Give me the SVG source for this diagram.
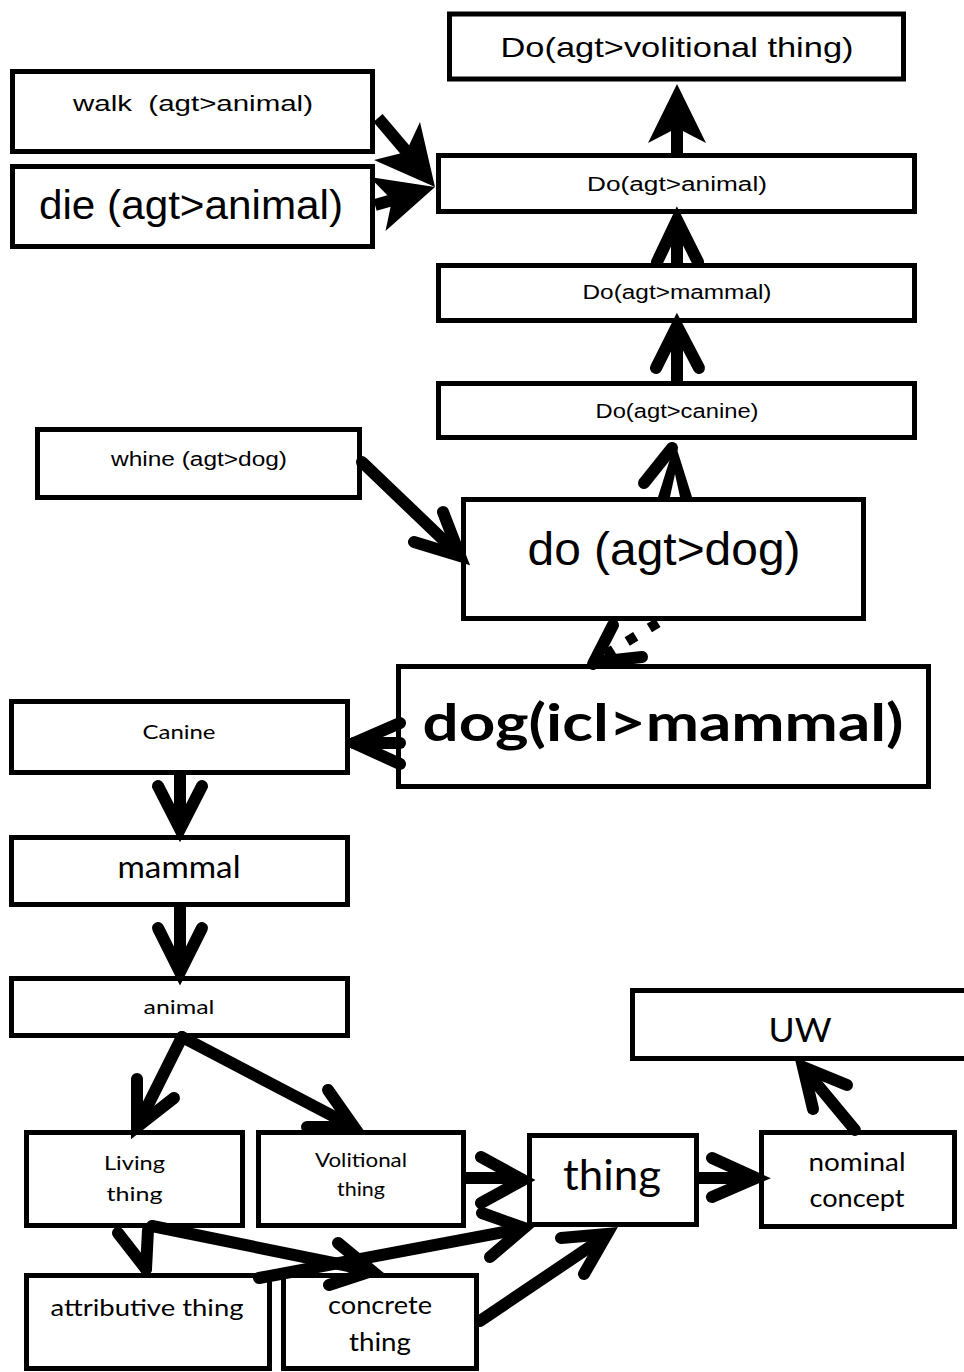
<svg xmlns="http://www.w3.org/2000/svg" width="964" height="1372" viewBox="0 0 964 1372">
  <defs>
    <style>
      .box { fill: #fff; stroke: #000; stroke-width: 5; }
      .arial { font-family: "Liberation Sans", Arial, sans-serif; fill: #000; text-anchor: middle; }
      .cal { font-family: Lato, "Open Sans", sans-serif; fill: #000; text-anchor: middle; }
      .ln { fill: none; stroke: #000; stroke-width: 12; stroke-linecap: round; stroke-linejoin: miter; }
      .shaft { fill: none; stroke: #000; stroke-width: 12; stroke-linecap: butt; }
      .head { fill: #000; stroke: none; }
      .dots { fill: none; stroke: #000; stroke-width: 10; stroke-dasharray: 10 16; }
    </style>
  </defs>
  <rect width="964" height="1372" fill="#fff"/>

  <!-- nodes -->
  <g id="nodes">
    <g id="do-volitional">
      <rect class="box" x="449.5" y="14" width="454" height="65"/>
      <text class="arial" x="677" y="57" font-size="28" textLength="353" lengthAdjust="spacingAndGlyphs">Do(agt&gt;volitional thing)</text>
    </g>
    <g id="walk">
      <rect class="box" x="12.5" y="71.5" width="360" height="80"/>
      <text class="arial" x="193" y="111" font-size="22" xml:space="preserve" textLength="240" lengthAdjust="spacingAndGlyphs">walk  (agt&gt;animal)</text>
    </g>
    <g id="die">
      <rect class="box" x="12.5" y="166.5" width="360" height="80"/>
      <text class="arial" x="191" y="219" font-size="40" textLength="304" lengthAdjust="spacingAndGlyphs">die (agt&gt;animal)</text>
    </g>
    <g id="do-animal">
      <rect class="box" x="438.5" y="155.5" width="476" height="56"/>
      <text class="arial" x="677" y="191" font-size="20" textLength="180" lengthAdjust="spacingAndGlyphs">Do(agt&gt;animal)</text>
    </g>
    <g id="do-mammal">
      <rect class="box" x="438.5" y="265.5" width="476" height="55"/>
      <text class="arial" x="677" y="299" font-size="20" textLength="189" lengthAdjust="spacingAndGlyphs">Do(agt&gt;mammal)</text>
    </g>
    <g id="do-canine">
      <rect class="box" x="438.5" y="383.5" width="476" height="54"/>
      <text class="arial" x="677" y="418" font-size="20" textLength="163" lengthAdjust="spacingAndGlyphs">Do(agt&gt;canine)</text>
    </g>
    <g id="whine">
      <rect class="box" x="37.5" y="429.5" width="322" height="68"/>
      <text class="arial" x="199" y="466" font-size="20" textLength="176" lengthAdjust="spacingAndGlyphs">whine (agt&gt;dog)</text>
    </g>
    <g id="do-dog">
      <rect class="box" x="463.5" y="499.5" width="400" height="119"/>
      <text class="arial" x="664" y="565" font-size="46" textLength="273" lengthAdjust="spacingAndGlyphs">do (agt&gt;dog)</text>
    </g>
    <g id="dog">
      <rect class="box" x="398.5" y="666.5" width="530" height="120"/>
      <text class="cal" x="663" y="741" font-size="52" font-weight="bold" textLength="481" lengthAdjust="spacingAndGlyphs">dog(icl&gt;mammal)</text>
    </g>
    <g id="canine">
      <rect class="box" x="11.5" y="701.5" width="336" height="71"/>
      <text class="cal" x="179" y="739" font-size="20" textLength="73" lengthAdjust="spacingAndGlyphs">Canine</text>
    </g>
    <g id="mammal">
      <rect class="box" x="11.5" y="837.5" width="336" height="67"/>
      <text class="cal" x="179" y="878" font-size="30" textLength="123" lengthAdjust="spacingAndGlyphs">mammal</text>
    </g>
    <g id="animal">
      <rect class="box" x="11.5" y="978.5" width="336" height="57"/>
      <text class="cal" x="179" y="1014" font-size="20" textLength="71" lengthAdjust="spacingAndGlyphs">animal</text>
    </g>
    <g id="uw">
      <rect class="box" x="632.5" y="990.5" width="350" height="68"/>
      <text class="cal" x="800" y="1042" font-size="32" textLength="63" lengthAdjust="spacingAndGlyphs">UW</text>
    </g>
    <g id="living-thing">
      <rect class="box" x="26.5" y="1132.5" width="216" height="93"/>
      <text class="cal" x="134.5" y="1170" font-size="20" textLength="61" lengthAdjust="spacingAndGlyphs">Living</text>
      <text class="cal" x="134.5" y="1201" font-size="20" textLength="56" lengthAdjust="spacingAndGlyphs">thing</text>
    </g>
    <g id="volitional-thing">
      <rect class="box" x="258.5" y="1132.5" width="205" height="93"/>
      <text class="cal" x="361" y="1167" font-size="19" textLength="92" lengthAdjust="spacingAndGlyphs">Volitional</text>
      <text class="cal" x="361" y="1196" font-size="19" textLength="48" lengthAdjust="spacingAndGlyphs">thing</text>
    </g>
    <g id="thing">
      <rect class="box" x="529.5" y="1135.5" width="167" height="89"/>
      <text class="cal" x="612" y="1190" font-size="42" textLength="98" lengthAdjust="spacingAndGlyphs">thing</text>
    </g>
    <g id="nominal-concept">
      <rect class="box" x="761.5" y="1132.5" width="193" height="94"/>
      <text class="cal" x="857" y="1171" font-size="25" textLength="97" lengthAdjust="spacingAndGlyphs">nominal</text>
      <text class="cal" x="857" y="1207" font-size="25" textLength="95" lengthAdjust="spacingAndGlyphs">concept</text>
    </g>
    <g id="attributive-thing">
      <rect class="box" x="26.5" y="1275.5" width="243" height="93"/>
      <text class="cal" x="147" y="1316" font-size="24" textLength="193" lengthAdjust="spacingAndGlyphs">attributive thing</text>
    </g>
    <g id="concrete-thing">
      <rect class="box" x="283.5" y="1275.5" width="193" height="93"/>
      <text class="cal" x="380" y="1314" font-size="25" textLength="104" lengthAdjust="spacingAndGlyphs">concrete</text>
      <text class="cal" x="380" y="1351" font-size="25" textLength="62" lengthAdjust="spacingAndGlyphs">thing</text>
    </g>
  </g>

  <!-- connectors -->
  <g id="connectors">
    <!-- Do(agt>animal) to Do(agt>volitional thing) -->
    <line class="shaft" x1="677" y1="153" x2="677" y2="125"/>
    <polygon class="head" points="677,84 706,143 677,128 648,143"/>

    <!-- walk and die to Do(agt>animal) -->
    <line class="shaft" x1="378" y1="118" x2="412" y2="158" stroke-width="13"/>
    <polygon class="head" points="435,187 420,122 406,152 374,160"/>
    <line class="shaft" x1="375" y1="205" x2="396" y2="199"/>
    <polygon class="head" points="435,187 369.5,177 392,200 385.5,231"/>

    <!-- Do(agt>mammal) to Do(agt>animal) -->
    <line class="shaft" x1="677" y1="264" x2="677" y2="225"/>
    <polyline class="ln" points="657,262 677,220 698,262"/>

    <!-- Do(agt>canine) to Do(agt>mammal) -->
    <line class="shaft" x1="677" y1="382" x2="677" y2="330"/>
    <polyline class="ln" points="656,368 677,326 699,368"/>

    <!-- do(agt>dog) to Do(agt>canine) -->
    <line class="ln" x1="644" y1="483" x2="672" y2="448"/>
    <polygon class="head" points="675,443 692,497 680,497 675,474 670,497 658,497"/>

    <!-- whine to do(agt>dog) -->
    <line class="ln" x1="362" y1="462" x2="456" y2="552"/>
    <polyline class="ln" points="443,512 460,556 414,542"/>

    <!-- do(agt>dog) to dog(icl>mammal), dotted -->
    <line class="dots" x1="605" y1="655" x2="664" y2="619"/>
    <line class="ln" x1="593" y1="664" x2="613" y2="625" stroke-width="11"/>
    <line class="ln" x1="596" y1="662" x2="642" y2="657" stroke-width="11"/>

    <!-- dog(icl>mammal) to Canine -->
    <line class="ln" x1="400" y1="723" x2="354" y2="743" stroke-width="11"/>
    <line class="ln" x1="400" y1="743" x2="354" y2="743" stroke-width="11"/>
    <line class="ln" x1="400" y1="764" x2="354" y2="743" stroke-width="11"/>

    <!-- Canine to mammal -->
    <line class="shaft" x1="180" y1="774" x2="180" y2="826"/>
    <polyline class="ln" points="158,786 180,829 202,786"/>

    <!-- mammal to animal -->
    <line class="shaft" x1="180" y1="906" x2="180" y2="968"/>
    <polyline class="ln" points="158,928 180,972 202,928"/>

    <!-- animal to Living thing / Volitional thing -->
    <line class="ln" x1="182" y1="1037" x2="139" y2="1123"/>
    <polyline class="ln" points="137,1079 137,1127 174,1098"/>
    <line class="ln" x1="182" y1="1037" x2="350" y2="1125"/>
    <polyline class="ln" points="328,1090 354,1127 307,1127"/>

    <!-- Volitional thing to thing -->
    <line class="shaft" x1="466" y1="1178" x2="520" y2="1178"/>
    <polyline class="ln" points="481,1157 523,1180 481,1203"/>

    <!-- Living thing to attributive thing -->
    <line class="ln" x1="118" y1="1233" x2="146" y2="1269"/>
    <line class="ln" x1="146" y1="1269" x2="148" y2="1230" stroke-width="8"/>

    <!-- Living thing to concrete thing -->
    <line class="ln" x1="152" y1="1226" x2="368" y2="1270"/>
    <polyline class="ln" points="338,1243 372,1271 329,1285"/>

    <!-- attributive thing to thing -->
    <line class="ln" x1="259" y1="1278" x2="520" y2="1229"/>
    <polyline class="ln" points="482,1213 524,1228 490,1257"/>

    <!-- concrete thing to thing -->
    <line class="ln" x1="480" y1="1321" x2="603" y2="1238"/>
    <polyline class="ln" points="561,1238 607,1234 584,1274"/>

    <!-- thing to nominal concept -->
    <line class="shaft" x1="698" y1="1178" x2="752" y2="1178"/>
    <polyline class="ln" points="712,1158 756,1178 712,1197"/>

    <!-- nominal concept to UW -->
    <line class="ln" x1="855" y1="1130" x2="806" y2="1071"/>
    <polyline class="ln" points="813,1109 803,1067 847,1085"/>
  </g>
</svg>
